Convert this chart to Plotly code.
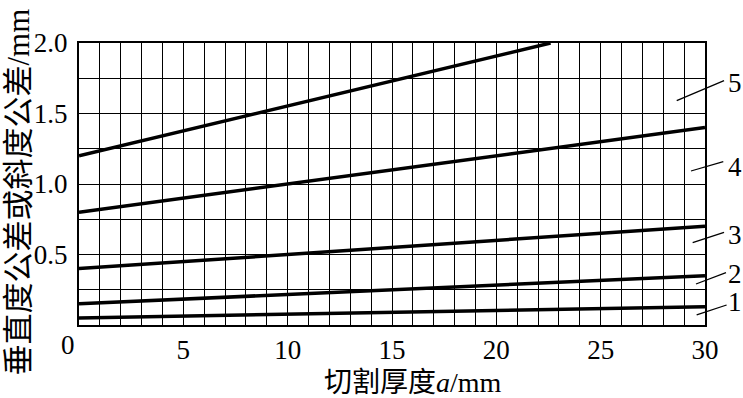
import plotly.graph_objects as go

# data
curve_names = ["1", "2", "3", "4", "5"]
x1 = [0, 30]; y1 = [0.05, 0.13]
x2 = [0, 30]; y2 = [0.15, 0.35]
x3 = [0, 30]; y3 = [0.40, 0.70]
x4 = [0, 30]; y4 = [0.80, 1.40]
x5 = [0, 22.6]; y5 = [1.20, 2.00]
x_ticks = [0, 5, 10, 15, 20, 25, 30]
y_ticks = [0.5, 1.0, 1.5, 2.0]
y_tick_text = ["0.5", "1.0", "1.5", "2.0"]

FONT = "Liberation Serif, Noto Sans CJK SC, serif"

fig = go.Figure()
for xs, ys, nm in zip([x1, x2, x3, x4, x5], [y1, y2, y3, y4, y5], curve_names):
    fig.add_trace(go.Scatter(x=xs, y=ys, mode="lines", name=nm,
                             line=dict(color="black", width=3.5),
                             showlegend=False, cliponaxis=True))

fig.update_layout(
    width=743, height=398,
    margin=dict(l=79, r=38, t=43, b=73),
    paper_bgcolor="white", plot_bgcolor="white",
    font=dict(family=FONT, color="black", size=27),
)
fig.update_xaxes(range=[0, 30], tickvals=x_ticks, ticktext=["", "5", "10", "15", "20", "25", "30"],
                 showgrid=True, gridcolor="black", gridwidth=1.3,
                 minor=dict(dtick=1, showgrid=True, gridcolor="black", gridwidth=1.3),
                 showline=True, linecolor="black", linewidth=2, mirror=True,
                 ticks="", zeroline=False, tickfont=dict(size=27, family=FONT))
fig.update_yaxes(range=[0, 2.0], tickvals=y_ticks, ticktext=y_tick_text,
                 showgrid=True, gridcolor="black", gridwidth=1.3,
                 minor=dict(dtick=0.25, showgrid=True, gridcolor="black", gridwidth=1.3),
                 showline=True, linecolor="black", linewidth=2, mirror=True,
                 ticks="", zeroline=False, tickfont=dict(size=27, family=FONT),
                 ticklabelstandoff=4)

# x tick "0" placed slightly left of the axis origin
fig.add_annotation(x=0, y=0, xref="x", yref="y", text="0", showarrow=False,
                   xshift=-11, yshift=-20, font=dict(size=27, family=FONT))

# axis titles
fig.add_annotation(xref="paper", yref="paper", x=0.534, y=-0.205, text="切割厚度<i>a</i>/mm",
                   showarrow=False, xanchor="center", yanchor="middle",
                   font=dict(size=28, family=FONT))
fig.add_annotation(xref="paper", yref="paper", x=-0.0974, y=0.47, text="垂直度公差或斜度公差/mm",
                   showarrow=False, textangle=-90, xanchor="center", yanchor="middle",
                   font=dict(size=31, family=FONT))

# curve labels with leader lines
leaders = [
    (0.9548, 0.7954, 1.0304, 0.8663, 1.0479, 0.857, "5"),
    (0.9776, 0.5461, 1.0292, 0.5791, 1.0479, 0.5613, "4"),
    (0.9803, 0.2918, 1.0304, 0.3287, 1.0479, 0.3191, "3"),
    (0.9856, 0.1454, 1.0335, 0.1855, 1.0479, 0.1816, "2"),
    (0.9867, 0.0355, 1.0345, 0.0709, 1.0479, 0.0816, "1"),
]
for x0, y0, xe, ye, tx, ty, t in leaders:
    fig.add_shape(type="line", xref="paper", yref="paper", x0=x0, y0=y0, x1=xe, y1=ye,
                  line=dict(color="black", width=1.3))
    fig.add_annotation(xref="paper", yref="paper", x=tx, y=ty, text=t, showarrow=False,
                       xanchor="center", yanchor="middle", font=dict(size=27, family=FONT))

fig.write_html("out.html")
